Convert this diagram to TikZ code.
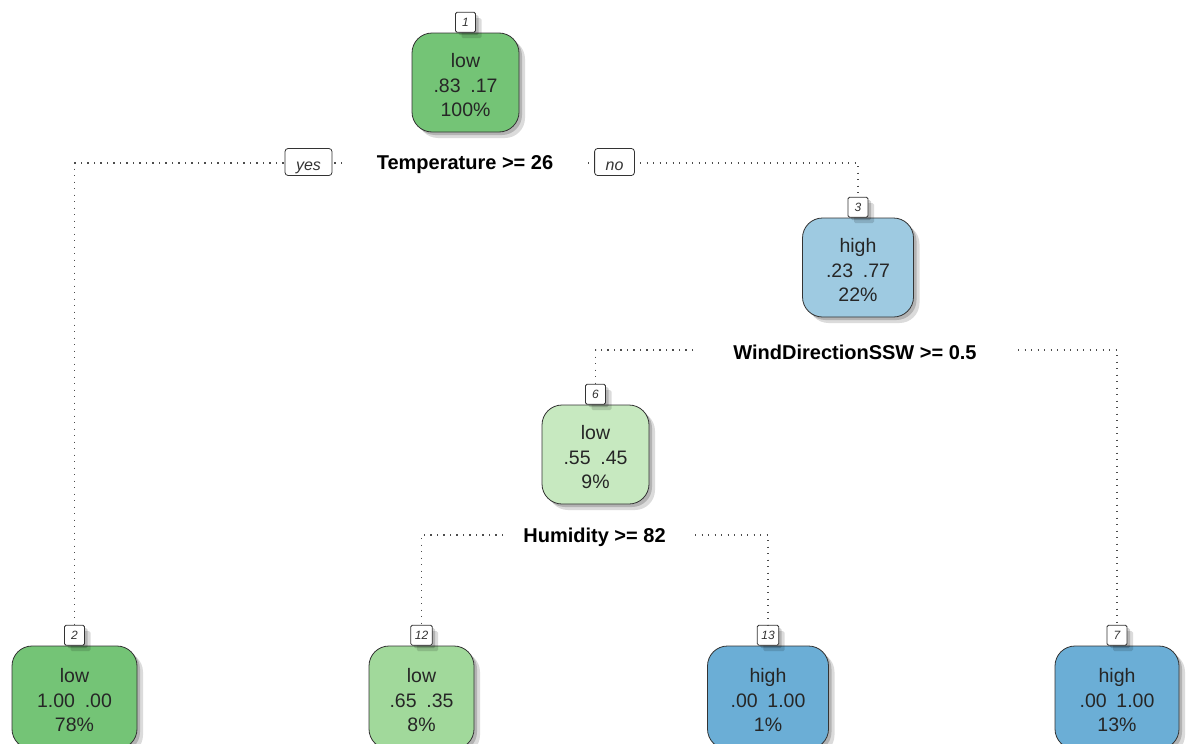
\documentclass[tikz,border=0pt]{standalone}
\usepackage{fontspec}
\setmainfont{Liberation Sans}
\usetikzlibrary{shadows}
\definecolor{gA}{HTML}{74C476}
\definecolor{gB}{HTML}{A1D99B}
\definecolor{gC}{HTML}{C7E9C0}
\definecolor{bA}{HTML}{9ECAE1}
\definecolor{bB}{HTML}{6BAED6}
\newcommand\upstrut{\rule{0pt}{20pt}}
\tikzset{
 shd/.style={drop shadow={shadow xshift=3pt,shadow yshift=-3pt,fill=black,opacity=0.18},
             drop shadow={shadow xshift=6pt,shadow yshift=-6pt,fill=black,opacity=0.14}},
 leafbox/.style={draw=black!80, line width=0.8pt, rounded corners=20pt, minimum height=99pt,
   align=center, inner sep=0pt, font=\fontsize{19.5}{24.5}\selectfont, text=black!85, shd},
 numbox/.style={draw=black!80, line width=0.8pt, rounded corners=1.5pt, fill=white,
   minimum height=20pt, minimum width=20pt, inner xsep=4pt, inner ysep=0pt,
   font=\fontsize{12}{12}\selectfont\itshape, text=black!80, anchor=south, shd},
 splitlab/.style={font=\fontsize{20}{20}\selectfont\bfseries, text=black},
 yn/.style={draw=black!80, line width=0.8pt, rounded corners=3pt, fill=white,
   minimum height=27pt, inner xsep=11pt, inner ysep=0pt, text height=19pt, text depth=2pt,
   font=\fontsize{16}{16}\selectfont\itshape, text=black!80},
 conn/.style={line width=1.1pt, black!70, dash pattern=on 1.1pt off 5.4pt},
}
\begin{document}
\begin{tikzpicture}[x=1pt,y=-1pt]
\clip (0,0) rectangle (1186,744);
\useasboundingbox (0,0) rectangle (1186,744);
\fill[white] (0,0) rectangle (1186,744);

% split labels
\node[splitlab] (s1) at (465,165) {Temperature >= 26};
\node[splitlab] (s2) at (855,352) {WindDirectionSSW >= 0.5};
\node[splitlab] (s3) at (594.5,537) {Humidity >= 82};

\coordinate (c1l) at (342,163);
\coordinate (c1r) at (588,163);
\coordinate (c2l) at (693,350);
\coordinate (c2r) at (1018,350);
\coordinate (c3l) at (503,535);
\coordinate (c3r) at (695,535);

% node boxes
\node[leafbox, fill=gA, minimum width=107pt] (n1) at (465.5,82.5) {\upstrut low\\.83\enspace.17\\100\%};
\node[numbox] (l1) at (n1.north) {1};

\node[leafbox, fill=bA, minimum width=111pt] (n3) at (858,267.5) {\upstrut high\\.23\enspace.77\\22\%};
\node[numbox] (l3) at (n3.north) {3};

\node[leafbox, fill=gC, minimum width=107pt] (n6) at (595.5,454.5) {\upstrut low\\.55\enspace.45\\9\%};
\node[numbox] (l6) at (n6.north) {6};

\tikzset{bottomrow/.style={minimum height=103pt}}
\node[leafbox, bottomrow, fill=gA, minimum width=125pt] (n2) at (74.5,697.5) {\upstrut low\\1.00\enspace.00\\78\%};
\node[numbox] (l2) at (n2.north) {2};

\node[leafbox, bottomrow, fill=gB, minimum width=105pt] (n12) at (421.5,697.5) {\upstrut low\\.65\enspace.35\\8\%};
\node[numbox] (l12) at (n12.north) {12};

\node[leafbox, bottomrow, fill=bB, minimum width=121pt] (n13) at (768,697.5) {\upstrut high\\.00\enspace1.00\\1\%};
\node[numbox] (l13) at (n13.north) {13};

\node[leafbox, bottomrow, fill=bB, minimum width=124pt] (n7) at (1117,697.5) {\upstrut high\\.00\enspace1.00\\13\%};
\node[numbox] (l7) at (n7.north) {7};

% connectors
\draw[conn] (c1l) -| (l2.north);
\draw[conn] (c1r) -| (l3.north);
\draw[conn] (c2l) -| (l6.north);
\draw[conn] (c2r) -| (l7.north);
\draw[conn] (c3l) -| (l12.north);
\draw[conn] (c3r) -| (l13.north);

% yes / no
\node[yn] (yes) at (308.5,162) {yes};
\node[yn] (no) at (614.5,162) {no};
\end{tikzpicture}
\end{document}
